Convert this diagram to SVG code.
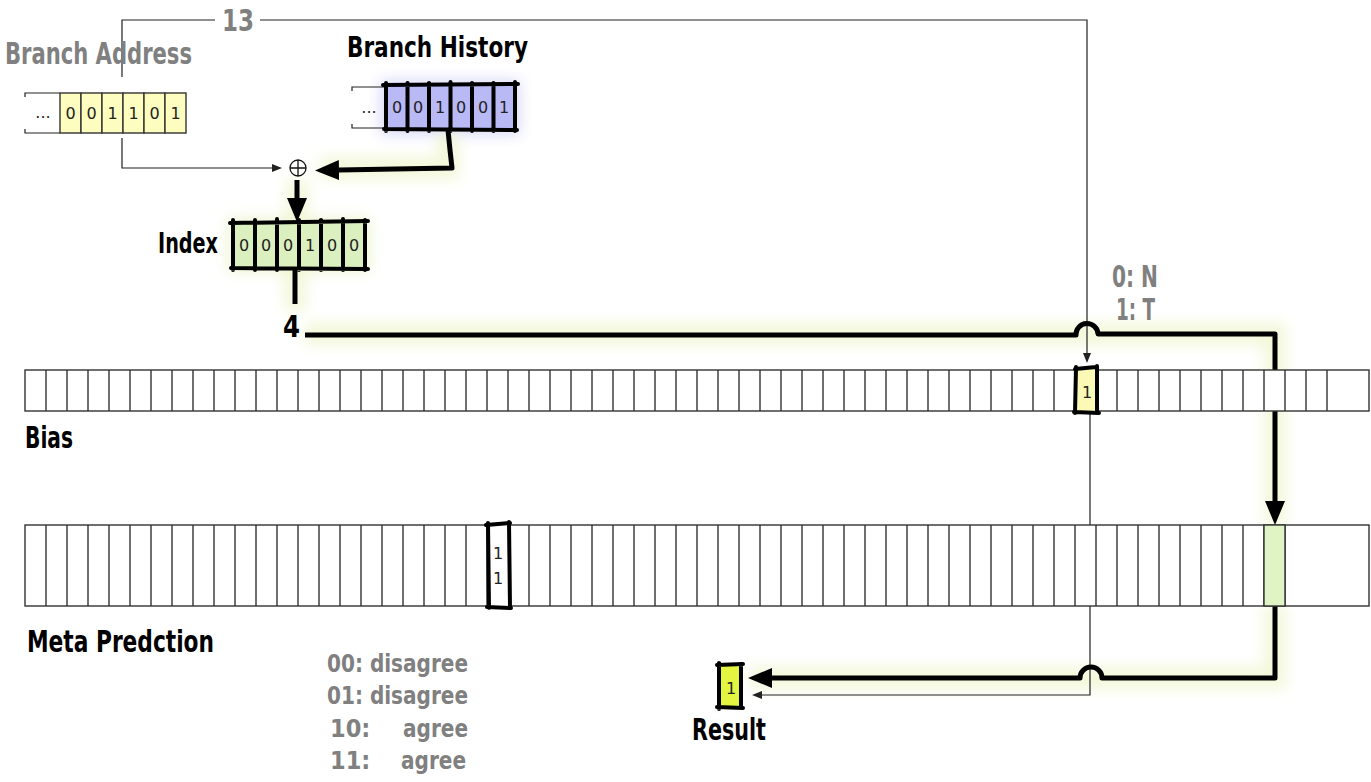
<svg xmlns="http://www.w3.org/2000/svg" width="1371" height="782" viewBox="0 0 1371 782">
<defs>
<style>
.lbl{font-family:"DejaVu Sans Condensed","DejaVu Sans",sans-serif;font-weight:bold;font-size:30px;fill:#000}
.gray{fill:#808080}
.leg{font-size:25px}
.dig{font-family:"DejaVu Sans",sans-serif;font-size:16px;text-anchor:middle;fill:#222}
.thin{fill:none;stroke:#222;stroke-width:1.2}
.thick{fill:none;stroke:#000;stroke-width:5;stroke-linejoin:round}
.cell{stroke:#333;stroke-width:1.4}
.sk{fill:none;stroke:#000;stroke-width:4;stroke-linecap:round;stroke-linejoin:round}
.glow{fill:none;stroke:#eef6cc;stroke-width:22;opacity:.75}
</style>
<filter id="blur" filterUnits="userSpaceOnUse" x="0" y="0" width="1371" height="782"><feGaussianBlur stdDeviation="7"/></filter>
<marker id="big" viewBox="0 -11 24 22" refX="0" refY="0" markerWidth="24" markerHeight="22" markerUnits="userSpaceOnUse" orient="auto"><path d="M0 -10L24 0L0 10z" fill="#000"/></marker>
<marker id="small" viewBox="0 -5 10 10" refX="0" refY="0" markerWidth="10" markerHeight="10" markerUnits="userSpaceOnUse" orient="auto"><path d="M0 -4L10 0L0 4z" fill="#222"/></marker>
</defs>
<rect width="1371" height="782" fill="#fff"/>

<g id="glows" filter="url(#blur)">
<rect x="380" y="80" width="140" height="55" fill="#dadaf8"/>
<rect x="228" y="218" width="142" height="54" fill="#eef5d2"/>
<path class="glow" d="M448 130V168H320M297 180V220M295 268V310M305 334H1275V525M1275 606V678H750"/>
</g>

<g id="connectors">
<path class="thin" d="M122 77V20H215M260 20H1087V353" marker-end="url(#small)"/>
<path class="thin" d="M122 138V168H272" marker-end="url(#small)"/>
<path class="thin" d="M1090 411V695H762" marker-end="url(#small)"/>
<path class="thick" d="M448 130L450 150L452 168L339 170" marker-end="url(#big)"/>
<path class="thick" d="M297 180V198" marker-end="url(#big)"/>
<path class="thick" d="M295 268V304"/>
<path class="thick" d="M305 335H1076A11 11 0 0 1 1098 334H1275V501" marker-end="url(#big)"/>
<path class="thick" d="M1275 606V678H1102A11 11 0 0 0 1080 678H772" marker-end="url(#big)"/>
</g>

<g id="branch-address">
<text class="lbl gray" x="5" y="64" style="font-size:31px" textLength="187" lengthAdjust="spacingAndGlyphs">Branch Address</text>
<path class="thin" d="M25 97V93H60M25 129V133H60"/>
<text class="dig" x="43" y="118">...</text>
<g fill="#fdfdc0" class="cell">
<rect x="60" y="93" width="21" height="40"/><rect x="81" y="93" width="21" height="40"/><rect x="102" y="93" width="21" height="40"/><rect x="123" y="93" width="21" height="40"/><rect x="144" y="93" width="21" height="40"/><rect x="165" y="93" width="21" height="40"/>
</g>
<text class="dig" y="119"><tspan x="70.5">0</tspan><tspan x="91.5">0</tspan><tspan x="112.5">1</tspan><tspan x="133.5">1</tspan><tspan x="154.5">0</tspan><tspan x="175.5">1</tspan></text>
</g>

<g id="label-13">
<text class="lbl gray" x="222" y="31" style="font-size:31px" textLength="32" lengthAdjust="spacingAndGlyphs">13</text>
</g>

<g id="branch-history">
<text class="lbl" x="347" y="57" style="font-size:28px" textLength="181" lengthAdjust="spacingAndGlyphs">Branch History</text>
<path class="thin" d="M352 91V87H386M352 124V128H386"/>
<text class="dig" x="369" y="113">...</text>
<rect x="386" y="85" width="129" height="43" fill="#b9b9f6"/>
<path class="sk" d="M383 85L518 84M384 129L517 130M386 83V131M407.5 83V131M429 83V131M450.5 82V131M472 83V131M493.5 83V131M515 82V131"/>
<text class="dig" y="113"><tspan x="397">0</tspan><tspan x="418">0</tspan><tspan x="440">1</tspan><tspan x="461">0</tspan><tspan x="483">0</tspan><tspan x="504">1</tspan></text>
</g>

<g id="xor">
<circle cx="298" cy="168" r="8" fill="#fff" stroke="#111" stroke-width="1.3"/>
<path d="M290 168H306M298 160V176" stroke="#111" stroke-width="1.3"/>
</g>

<g id="index">
<text class="lbl" x="158" y="253" style="font-size:29px" textLength="60" lengthAdjust="spacingAndGlyphs">Index</text>
<rect x="233" y="222" width="132" height="46" fill="#dcefbf"/>
<path class="sk" d="M230 223L368 221M231 268L368 269M233 220V270M255 220V270M277 219V270M299 220V270M321 220V270M343 219V270M365 220V270"/>
<text class="dig" y="251"><tspan x="244">0</tspan><tspan x="266">0</tspan><tspan x="288">0</tspan><tspan x="310">1</tspan><tspan x="332">0</tspan><tspan x="354">0</tspan></text>
</g>

<g id="label-4">
<text class="lbl" x="283" y="337" style="font-size:31px" textLength="17" lengthAdjust="spacingAndGlyphs">4</text>
</g>

<g id="legend-bias">
<text class="lbl gray" x="1112" y="287" textLength="46" lengthAdjust="spacingAndGlyphs">0: N</text>
<text class="lbl gray" x="1116" y="320" textLength="39" lengthAdjust="spacingAndGlyphs">1: T</text>
</g>

<g id="bias">
<rect x="25" y="370" width="1344" height="41" fill="#fff" class="cell"/>
<path class="cell" d="M46 370v41m21-41v41m21-41v41m21-41v41m21-41v41m21-41v41m21-41v41m21-41v41m21-41v41m21-41v41m21-41v41m21-41v41m21-41v41m21-41v41m21-41v41m21-41v41m21-41v41m21-41v41m21-41v41m21-41v41m21-41v41m21-41v41m21-41v41m21-41v41m21-41v41m21-41v41m21-41v41m21-41v41m21-41v41m21-41v41m21-41v41m21-41v41m21-41v41m21-41v41m21-41v41m21-41v41m21-41v41m21-41v41m21-41v41m21-41v41m21-41v41m21-41v41m21-41v41m21-41v41m21-41v41m21-41v41m21-41v41m21-41v41m21-41v41m21-41v41m21-41v41m21-41v41m21-41v41m21-41v41m21-41v41m21-41v41m21-41v41m21-41v41m21-41v41m21-41v41m21-41v41m21-41v41"/>
<text class="lbl" x="25" y="448" textLength="48" lengthAdjust="spacingAndGlyphs">Bias</text>
</g>

<g id="bias-hit">
<rect x="1076" y="368" width="21" height="44" fill="#fbf9b5"/>
<path class="sk" d="M1075 369L1096 367M1074 412L1099 413M1076 367L1075 413M1097 366V413"/>
<text class="dig" x="1087" y="398">1</text>
</g>

<g id="meta">
<rect x="25" y="525" width="1344" height="81" fill="#fff" class="cell"/>
<path class="cell" d="M46 525v81m21-81v81m21-81v81m21-81v81m21-81v81m21-81v81m21-81v81m21-81v81m21-81v81m21-81v81m21-81v81m21-81v81m21-81v81m21-81v81m21-81v81m21-81v81m21-81v81m21-81v81m21-81v81m21-81v81m21-81v81m21-81v81m21-81v81m21-81v81m21-81v81m21-81v81m21-81v81m21-81v81m21-81v81m21-81v81m21-81v81m21-81v81m21-81v81m21-81v81m21-81v81m21-81v81m21-81v81m21-81v81m21-81v81m21-81v81m21-81v81m21-81v81m21-81v81m21-81v81m21-81v81m21-81v81m21-81v81m21-81v81m21-81v81m21-81v81m21-81v81m21-81v81m21-81v81m21-81v81m21-81v81m21-81v81m21-81v81m21-81v81m21-81v81m21-81v81"/>
<text class="lbl" x="27" y="652" style="font-size:31px" textLength="187" lengthAdjust="spacingAndGlyphs">Meta Predction</text>
</g>

<g id="meta-hit">
<rect x="488" y="524" width="21" height="83" fill="#fff"/>
<path class="sk" d="M486 525L510 523M487 607L511 608M488 523L489 608M509 522L510 608"/>
<text class="dig" x="498" y="559">1</text>
<text class="dig" x="498" y="584">1</text>
</g>

<g id="meta-select">
<rect x="1264" y="525" width="21" height="81" fill="#e0f3c5" class="cell"/>
</g>

<g id="meta-legend">
<text class="lbl gray leg" x="327" y="672" textLength="141" lengthAdjust="spacingAndGlyphs">00: disagree</text>
<text class="lbl gray leg" x="327" y="704" textLength="141" lengthAdjust="spacingAndGlyphs">01: disagree</text>
<text class="lbl gray leg" x="330" y="737">10: <tspan x="403" textLength="65" lengthAdjust="spacingAndGlyphs">agree</tspan></text>
<text class="lbl gray leg" x="330" y="769">11: <tspan x="401" textLength="65" lengthAdjust="spacingAndGlyphs">agree</tspan></text>
</g>

<g id="result">
<rect x="719" y="665" width="21" height="42" fill="#e3f541"/>
<path class="sk" d="M717 665L743 664M717 707L743 708M719 663V709M741 664V708"/>
<text class="dig" x="731" y="694">1</text>
<text class="lbl" x="692" y="740" textLength="74" lengthAdjust="spacingAndGlyphs">Result</text>
</g>
</svg>
